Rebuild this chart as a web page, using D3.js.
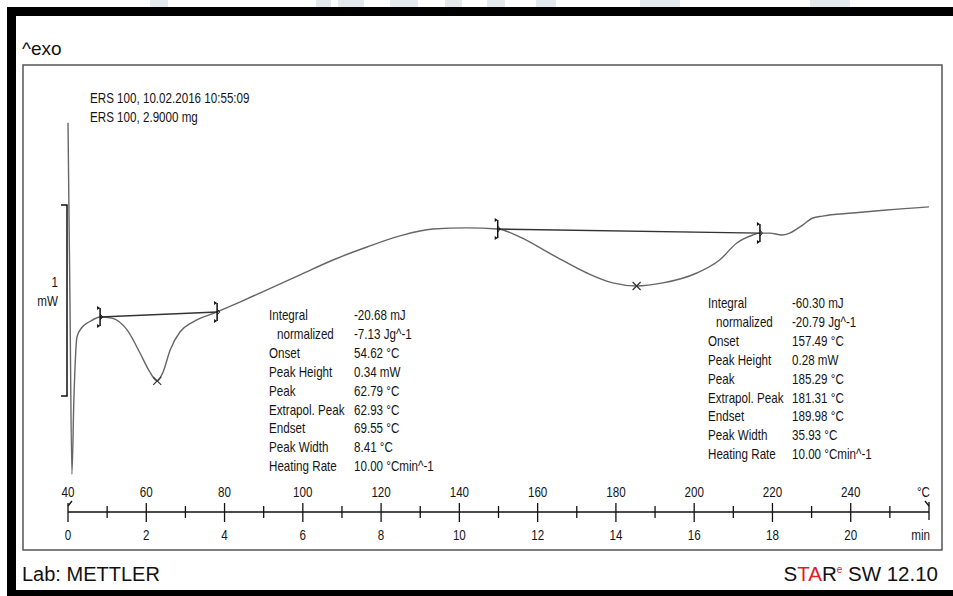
<!DOCTYPE html>
<html>
<head>
<meta charset="utf-8">
<script src="https://cdn.jsdelivr.net/npm/d3@7"></script>
<style>
    body { margin: 0; background: #fff; }
    svg { display: block; }
    .small { font-family: "Liberation Sans", Arial, sans-serif; font-size: 14px; fill: #151515; }
    .big { font-family: "Liberation Sans", Arial, sans-serif; fill: #111; }
</style>
</head>
<body>
<div id="chart-area"></div>
<script>
// curve (temperature in °C, heat flow in mW)
const temperature = [40.0, 40.5, 41.0, 41.5, 42.3, 43.6, 45.6, 48.2, 51.2, 55.1, 58.4, 60.9, 62.8, 64.3,
    66.1, 68.6, 71.9, 78.1, 83.9, 89.0, 99.3, 107.7, 116.4, 124.8, 133.2, 141.9, 149.8, 155.5, 163.9,
    172.6, 179.2, 185.3, 192.0, 200.7, 206.5, 210.9, 215.0, 216.8, 219.3, 222.4, 224.4, 227.7, 230.3,
    232.8, 240.5, 249.2, 260.0];
const heatFlow = [1.43, 0.50, -0.41, -0.02, 0.31, 0.36, 0.39, 0.414, 0.408, 0.346, 0.225, 0.126, 0.079, 0.126,
    0.241, 0.335, 0.387, 0.44, 0.492, 0.539, 0.634, 0.712, 0.78, 0.838, 0.874, 0.88, 0.874, 0.832, 0.738,
    0.644, 0.592, 0.576, 0.592, 0.644, 0.712, 0.801, 0.843, 0.853, 0.853, 0.843, 0.853, 0.895, 0.932,
    0.942, 0.958, 0.974, 0.99];

// integration limits and peaks
const limitTemps = [[48.2, 78.1], [149.8, 216.8]];
const limitFlows = [[0.414, 0.44], [0.874, 0.853]];
const peakTemps = [62.79, 185.29];
const peakFlows = [0.079, 0.576];

// axes
const tempTicks = [40, 60, 80, 100, 120, 140, 160, 180, 200, 220, 240];
const timeTicks = [0, 2, 4, 6, 8, 10, 12, 14, 16, 18, 20];
const minorTimeTicks = [1, 3, 5, 7, 9, 11, 13, 15, 17, 19, 21];

// result tables
const resultLabels = ['Integral', '  normalized', 'Onset', 'Peak Height', 'Peak', 'Extrapol. Peak', 'Endset', 'Peak Width', 'Heating Rate'];
const resultsPeak1 = ['-20.68 mJ', '-7.13 Jg^-1', '54.62 °C', '0.34 mW', '62.79 °C', '62.93 °C', '69.55 °C', '8.41 °C', '10.00 °Cmin^-1'];
const resultsPeak2 = ['-60.30 mJ', '-20.79 Jg^-1', '157.49 °C', '0.28 mW', '185.29 °C', '181.31 °C', '189.98 °C', '35.93 °C', '10.00 °Cmin^-1'];

const headerLines = ['ERS 100, 10.02.2016 10:55:09', 'ERS 100, 2.9000 mg'];

const W = 953, H = 596;

const svg = d3.select('#chart-area')
    .append('svg')
        .attr('width', W)
        .attr('height', H);

// the original uses a narrow font: put small texts at (px, py) squeezed sideways
function small(parent, px, py, str, anchor) {
    return parent.append('text')
        .attr('class', 'small')
        .attr('transform', `translate(${px},${py}) scale(0.83,1)`)
        .attr('text-anchor', anchor || 'start')
        .text(str);
}

// faint watermark at the very top
const wm = svg.append('g').attr('fill', '#e3e9ed');
[[150, 168], [316, 331], [338, 364], [390, 418], [445, 462], [487, 505], [536, 556], [640, 680], [810, 850]]
    .forEach(([a, b]) => wm.append('rect').attr('x', a).attr('y', 0).attr('width', b - a).attr('height', 7));

// black frame
svg.append('rect').attr('x', 7).attr('y', 7).attr('width', W - 7).attr('height', 9).attr('fill', '#000');
svg.append('rect').attr('x', 7).attr('y', 7).attr('width', 9).attr('height', H - 7).attr('fill', '#000');
svg.append('rect').attr('x', 7).attr('y', 590).attr('width', W - 7).attr('height', 6).attr('fill', '#000');

// plot box
svg.append('rect')
    .attr('x', 23).attr('y', 65)
    .attr('width', 919).attr('height', 485)
    .attr('fill', 'none')
    .attr('stroke', '#555')
    .attr('stroke-width', 1.5);

svg.append('text').attr('class', 'big')
    .attr('x', 22).attr('y', 55)
    .attr('font-size', '19px')
    .text('^exo');

svg.append('text').attr('class', 'big')
    .attr('x', 22).attr('y', 581)
    .attr('font-size', '20px')
    .text('Lab: METTLER');

const star = svg.append('text').attr('class', 'big')
    .attr('x', 938).attr('y', 581)
    .attr('font-size', '20.5px')
    .attr('text-anchor', 'end');
star.append('tspan').text('S');
star.append('tspan').attr('fill', '#e31b23').text('TA');
star.append('tspan').text('R');
star.append('tspan').attr('fill', '#e31b23').attr('font-size', '10px').attr('dy', -8).text('e');
star.append('tspan').attr('dy', 8).text(' SW 12.10');

// scales
const x = d3.scaleLinear().domain([40, 260]).range([68, 929]);
const t = d3.scaleLinear().domain([0, 22]).range([68, 929]);
const y = d3.scaleLinear().domain([0, 1]).range([396, 205]);

// header
headerLines.forEach((d, i) => small(svg, 90, 103 + i * 19, d));

// 1 mW scale bar
const bar = svg.append('g').attr('stroke', '#111').attr('stroke-width', 1.5).attr('fill', 'none');
bar.append('path').attr('d', `M61,${y(1)}H67V${y(0)}H61`);
small(svg, 58, y(0.57), '1', 'end');
small(svg, 58, y(0.47), 'mW', 'end');

// curve
const pts = temperature.map((d, i) => [d, heatFlow[i]]);
const line = d3.line()
    .x(d => x(d[0]))
    .y(d => y(d[1]))
    .curve(d3.curveMonotoneX);

svg.append('path')
    .datum(pts)
    .attr('d', line)
    .attr('fill', 'none')
    .attr('stroke', '#666')
    .attr('stroke-width', 1.4);

// baselines and integration limit markers
limitTemps.forEach((lim, k) => {
    const fl = limitFlows[k];
    svg.append('line')
        .attr('x1', x(lim[0])).attr('y1', y(fl[0]))
        .attr('x2', x(lim[1])).attr('y2', y(fl[1]))
        .attr('stroke', '#333')
        .attr('stroke-width', 1.4);
    lim.forEach((tv, j) => {
        const cx = x(tv), cy = y(fl[j]);
        const m = svg.append('g');
        m.append('line')
            .attr('x1', cx).attr('x2', cx)
            .attr('y1', cy - 9).attr('y2', cy + 9)
            .attr('stroke', '#111').attr('stroke-width', 1.5);
        m.append('path')
            .attr('d', `M${cx},${cy - 9}l-3,-2v4z M${cx},${cy + 9}l-3,-2v4z`)
            .attr('fill', '#111');
        m.append('path')
            .attr('d', `M${cx},${cy - 3}l2.5,3l-2.5,3`)
            .attr('fill', 'none').attr('stroke', '#111').attr('stroke-width', 1);
    });
});

// peak crosses
peakTemps.forEach((tv, i) => {
    const cx = x(tv), cy = y(peakFlows[i]);
    svg.append('path')
        .attr('d', `M${cx - 4},${cy - 4}L${cx + 4},${cy + 4}M${cx - 4},${cy + 4}L${cx + 4},${cy - 4}`)
        .attr('stroke', '#333').attr('stroke-width', 1.2);
});

// result tables
function table(values, lx, vx, y0) {
    const g = svg.append('g');
    resultLabels.forEach((d, i) => {
        small(g, d.startsWith(' ') ? lx + 8 : lx, y0 + i * 18.9, d.trim());
        small(g, vx, y0 + i * 18.9, values[i]);
    });
}
table(resultsPeak1, 269, 354, 320);
table(resultsPeak2, 708, 792, 308);

// time / temperature axis
const ax = svg.append('g').attr('stroke', '#111').attr('stroke-width', 1.3);
ax.append('line').attr('x1', t(0)).attr('x2', t(22)).attr('y1', 512).attr('y2', 512);
ax.selectAll('.major')
    .data(timeTicks)
    .enter()
        .append('line')
            .attr('x1', d => t(d)).attr('x2', d => t(d))
            .attr('y1', 503).attr('y2', 522);
ax.selectAll('.minor')
    .data(minorTimeTicks)
    .enter()
        .append('line')
            .attr('x1', d => t(d)).attr('x2', d => t(d))
            .attr('y1', 506).attr('y2', 518);
// end marks
ax.append('line').attr('x1', t(22)).attr('x2', t(22)).attr('y1', 502).attr('y2', 520);
ax.append('path').attr('d', `M${t(22) - 4},${501}L${t(22)},${506}`).attr('fill', 'none');
ax.append('path').attr('d', `M${t(0) + 4},${501}L${t(0)},${506}`).attr('fill', 'none');

tempTicks.forEach(d => small(svg, x(d), 497, d, 'middle'));
timeTicks.forEach(d => small(svg, t(d), 540, d, 'middle'));
small(svg, 930, 497, '°C', 'end');
small(svg, 930, 540, 'min', 'end');
</script>
</body>
</html>
